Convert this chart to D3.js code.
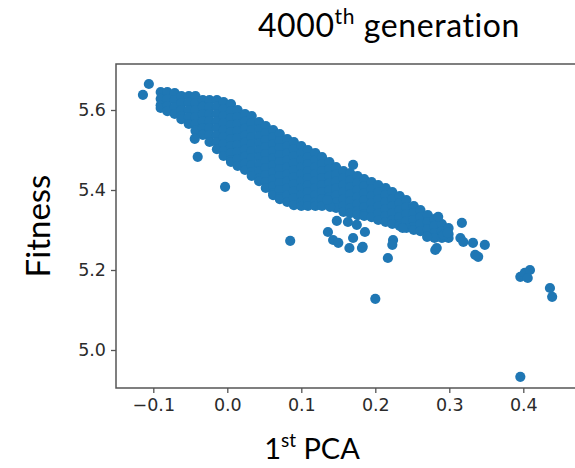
<!DOCTYPE html>
<html>
<head>
<meta charset="utf-8">
<script src="https://cdn.jsdelivr.net/npm/d3@7"></script>
<style>
  html, body { margin: 0; padding: 0; background: #fff; }
  svg { display: block; }
</style>
</head>
<body>
<svg id="chart" width="575" height="468"></svg>
<script>
// ---- Data ----
const xTicks = [-0.1, 0.0, 0.1, 0.2, 0.3, 0.4];
const yTicks = [5.0, 5.2, 5.4, 5.6];

// dense cloud, described column by column (1st PCA value, fitness values)
const columnPca = [-0.090, -0.081, -0.071, -0.062, -0.052, -0.043, -0.033, -0.024, -0.014, -0.005,
  0.005, 0.014, 0.024, 0.033, 0.043, 0.052, 0.062, 0.071, 0.081, 0.090,
  0.100, 0.109, 0.119, 0.128, 0.138, 0.147, 0.157, 0.166, 0.176, 0.185,
  0.195, 0.204, 0.214, 0.223, 0.233, 0.242, 0.252, 0.261, 0.271, 0.280, 0.290, 0.299];
const columnFitness = [
  [5.645, 5.628, 5.612, 5.605],
  [5.645, 5.627, 5.61, 5.597],
  [5.642, 5.625, 5.607, 5.59],
  [5.635, 5.617, 5.6, 5.585, 5.577],
  [5.635, 5.618, 5.6, 5.582, 5.565],
  [5.635, 5.617, 5.6, 5.582, 5.565, 5.548],
  [5.625, 5.608, 5.59, 5.572, 5.555, 5.538],
  [5.625, 5.607, 5.59, 5.572, 5.555, 5.537, 5.52],
  [5.625, 5.608, 5.59, 5.572, 5.555, 5.537, 5.52, 5.502],
  [5.62, 5.602, 5.585, 5.567, 5.55, 5.532, 5.515, 5.497, 5.485],
  [5.615, 5.597, 5.58, 5.562, 5.545, 5.527, 5.51, 5.492, 5.475, 5.47],
  [5.6, 5.582, 5.565, 5.547, 5.53, 5.512, 5.495, 5.477, 5.46],
  [5.59, 5.572, 5.555, 5.537, 5.52, 5.502, 5.485, 5.467, 5.45],
  [5.585, 5.567, 5.55, 5.532, 5.515, 5.497, 5.48, 5.462, 5.445, 5.435],
  [5.57, 5.552, 5.535, 5.517, 5.5, 5.482, 5.465, 5.447, 5.43, 5.422],
  [5.56, 5.542, 5.525, 5.507, 5.49, 5.472, 5.455, 5.437, 5.42, 5.405],
  [5.55, 5.532, 5.515, 5.497, 5.48, 5.462, 5.445, 5.427, 5.41, 5.392, 5.387],
  [5.54, 5.522, 5.505, 5.487, 5.47, 5.452, 5.435, 5.417, 5.4, 5.382, 5.377],
  [5.527, 5.51, 5.492, 5.475, 5.457, 5.44, 5.422, 5.405, 5.387, 5.37],
  [5.52, 5.502, 5.485, 5.467, 5.45, 5.432, 5.415, 5.397, 5.38, 5.362],
  [5.51, 5.492, 5.475, 5.457, 5.44, 5.422, 5.405, 5.387, 5.37, 5.36],
  [5.50, 5.482, 5.465, 5.447, 5.43, 5.412, 5.395, 5.377, 5.36],
  [5.492, 5.475, 5.457, 5.44, 5.422, 5.405, 5.387, 5.37, 5.36],
  [5.482, 5.465, 5.447, 5.43, 5.412, 5.395, 5.377, 5.36],
  [5.47, 5.452, 5.435, 5.417, 5.4, 5.382, 5.365],
  [5.457, 5.44, 5.422, 5.405, 5.387, 5.37, 5.355],
  [5.447, 5.43, 5.412, 5.395, 5.377, 5.36, 5.345],
  [5.442, 5.425, 5.407, 5.39, 5.372, 5.355, 5.342],
  [5.435, 5.417, 5.4, 5.382, 5.365, 5.347, 5.337],
  [5.427, 5.41, 5.392, 5.375, 5.357, 5.34, 5.335],
  [5.42, 5.402, 5.385, 5.367, 5.35, 5.332],
  [5.412, 5.395, 5.377, 5.36, 5.342, 5.325],
  [5.405, 5.387, 5.37, 5.352, 5.335, 5.32],
  [5.395, 5.377, 5.36, 5.342, 5.325, 5.315],
  [5.385, 5.367, 5.35, 5.332, 5.315, 5.31],
  [5.375, 5.357, 5.34, 5.322, 5.305],
  [5.36, 5.342, 5.325, 5.307, 5.30],
  [5.35, 5.332, 5.315, 5.297],
  [5.337, 5.32, 5.302, 5.285],
  [5.327, 5.31, 5.292, 5.28],
  [5.315, 5.297, 5.28],
  [5.305, 5.29, 5.28]
];

// sparse points around the cloud: [1st PCA, fitness]
const scatterPoints = [
  [-0.106, 5.665], [-0.114, 5.638], [-0.044, 5.528], [-0.040, 5.483], [-0.003, 5.408],
  [0.085, 5.273],
  [0.136, 5.295], [0.143, 5.275], [0.150, 5.268], [0.165, 5.255], [0.182, 5.255],
  [0.148, 5.323], [0.163, 5.320], [0.175, 5.313], [0.186, 5.295], [0.170, 5.280],
  [0.139, 5.358], [0.135, 5.375], [0.183, 5.258], [0.170, 5.463],
  [0.217, 5.230], [0.224, 5.275], [0.223, 5.263], [0.200, 5.128], [0.237, 5.305],
  [0.270, 5.283], [0.283, 5.255], [0.281, 5.250], [0.292, 5.288], [0.298, 5.293],
  [0.285, 5.333], [0.315, 5.280], [0.319, 5.270], [0.317, 5.318], [0.332, 5.268],
  [0.335, 5.238], [0.339, 5.233], [0.348, 5.263],
  [0.396, 5.183], [0.402, 5.193], [0.409, 5.200], [0.406, 5.180],
  [0.436, 5.155], [0.439, 5.133],
  [0.396, 4.933]
];

// ---- Layout ----
const svg = d3.select("#chart");
const plot = { left: 116, top: 64, right: 576, bottom: 388 };

const x = d3.scaleLinear()
  .domain([(plot.left - 227.3) / 740, (plot.right - 227.3) / 740])
  .range([plot.left, plot.right]);
const y = d3.scaleLinear()
  .domain([5.6 - (plot.bottom - 110) / 400, 5.6 + (110 - plot.top) / 400])
  .range([plot.bottom, plot.top]);

const points = [];
columnPca.forEach((p, i) => columnFitness[i].forEach(f => points.push([p, f])));
scatterPoints.forEach(d => points.push(d));

// points
svg.append("g")
  .selectAll("circle")
  .data(points)
  .join("circle")
  .attr("cx", d => x(d[0]))
  .attr("cy", d => y(d[1]))
  .attr("r", 5.1)
  .attr("fill", "#1f77b4");

// frame
svg.append("rect")
  .attr("x", plot.left).attr("y", plot.top)
  .attr("width", plot.right - plot.left).attr("height", plot.bottom - plot.top)
  .attr("fill", "none").attr("stroke", "#555").attr("stroke-width", 1.5);

const fmt = d => d3.format(".1f")(d).replace("-", "\u2212");

const xAxis = svg.append("g")
  .attr("transform", `translate(0,${plot.bottom})`)
  .call(d3.axisBottom(x).tickValues(xTicks).tickFormat(fmt).tickSize(5).tickPadding(6));
const yAxis = svg.append("g")
  .attr("transform", `translate(${plot.left},0)`)
  .call(d3.axisLeft(y).tickValues(yTicks).tickFormat(fmt).tickSize(5).tickPadding(5));

[xAxis, yAxis].forEach(g => {
  g.select(".domain").remove();
  g.selectAll(".tick line").attr("stroke", "#555").attr("stroke-width", 1.3);
  g.selectAll(".tick text")
    .attr("fill", "#2b2b2b")
    .style("font-family", "'DejaVu Sans', sans-serif")
    .style("font-size", "17.5px");
});

const labelFont = "Lato, 'Open Sans', sans-serif";

// title
const title = svg.append("text")
  .attr("x", 389).attr("y", 37)
  .attr("text-anchor", "middle")
  .style("font-family", labelFont).style("font-size", "32px")
  .style("letter-spacing", "0.6px").attr("fill", "#000");
title.append("tspan").text("4000");
title.append("tspan").attr("dy", -13).style("font-size", "21px").text("th");
title.append("tspan").attr("dy", 13).text(" generation");

// x label
const xl = svg.append("text")
  .attr("x", 312).attr("y", 459)
  .attr("text-anchor", "middle")
  .style("font-family", labelFont).style("font-size", "29px").attr("fill", "#000");
xl.append("tspan").text("1");
xl.append("tspan").attr("dy", -12).style("font-size", "19px").text("st");
xl.append("tspan").attr("dy", 12).text(" PCA");

// y label
svg.append("text")
  .attr("transform", "translate(50,226) rotate(-90)")
  .attr("text-anchor", "middle")
  .style("font-family", labelFont).style("font-size", "33px").attr("fill", "#000")
  .text("Fitness");
</script>
</body>
</html>
